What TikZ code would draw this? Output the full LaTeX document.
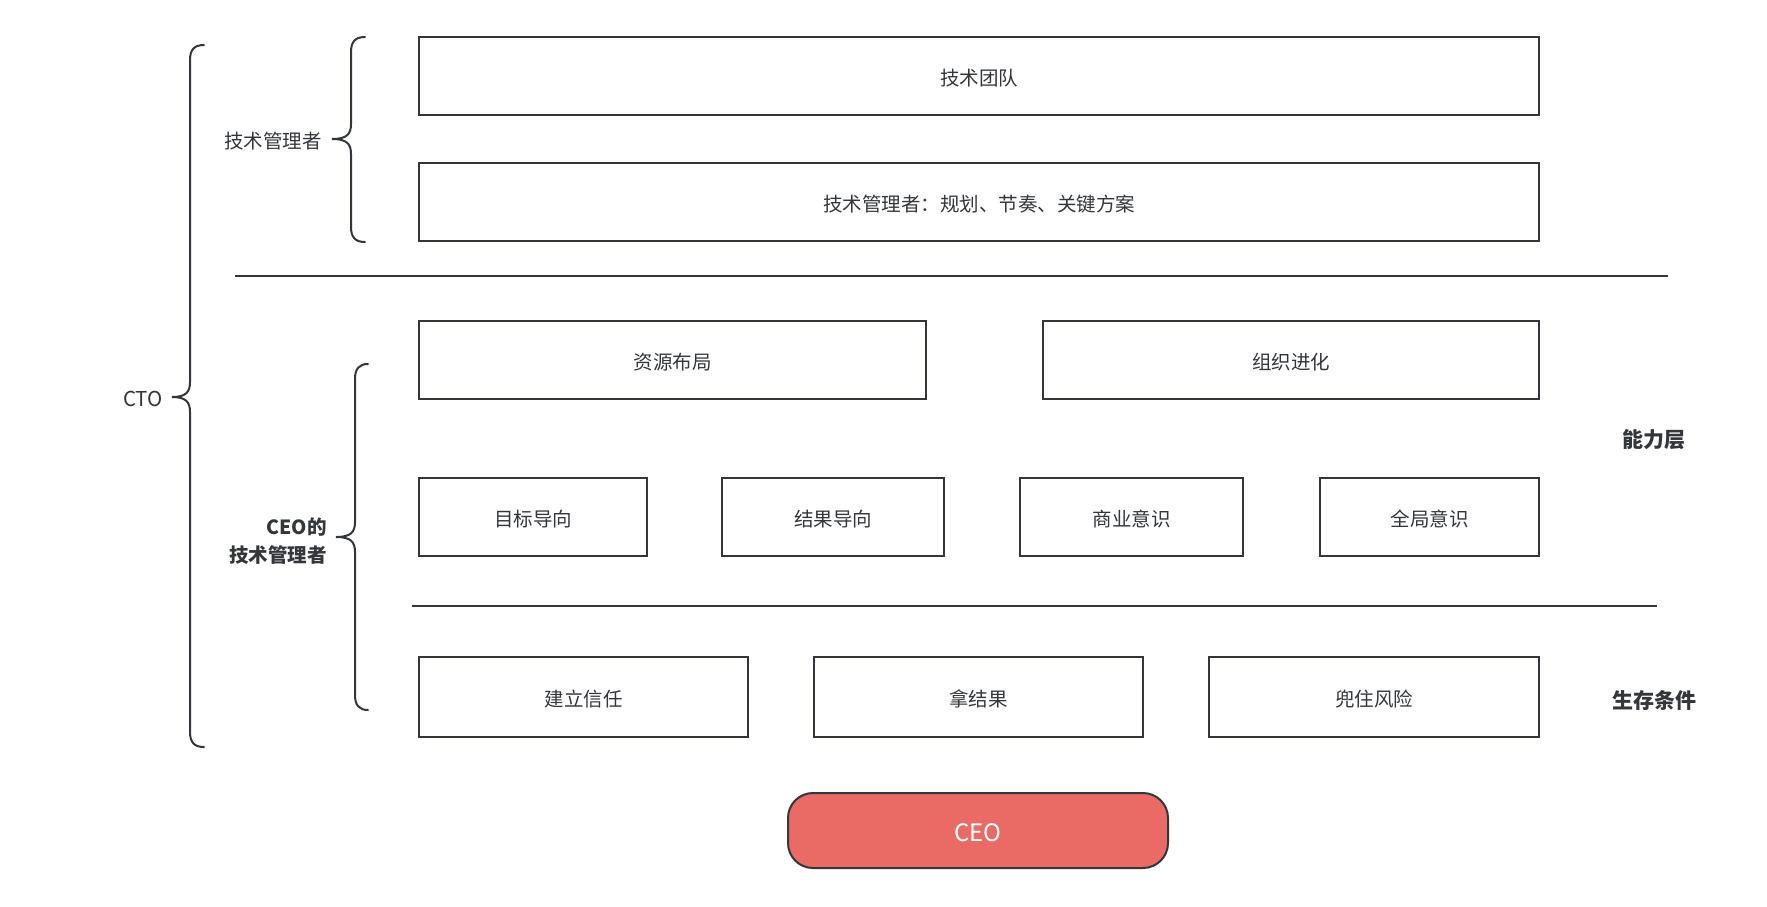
\documentclass[tikz,border=0pt]{standalone}
\usepackage{fontspec}
\setmainfont{Noto Sans CJK SC}
\usetikzlibrary{positioning}
\definecolor{linec}{RGB}{51,54,58}
\definecolor{ceored}{RGB}{234,107,102}
\tikzset{
  box/.style = {draw=linec, line width=2pt, outer sep=0pt, minimum height=78pt, text=linec,
                text height=19pt, text depth=0pt, font=\fontsize{19.5}{23}\selectfont},
  layer/.style = {draw=linec, line width=2pt},
  bracket/.style = {draw=linec, line width=2pt, line cap=round},
  tag/.style = {text=linec, font=\fontsize{19.5}{23}\selectfont, inner sep=0pt},
  bold tag/.style = {tag, font=\fontsize{21}{25}\selectfont\bfseries}
}

\begin{document}
\begin{tikzpicture}[x=1pt, y=-1pt, node distance = 48pt]
  \useasboundingbox (0,0) rectangle (1767,906);

  % top part
  \node (team)[box, minimum width=1120pt] at (979,76) {技术团队};
  \node (plan)[box, minimum width=1120pt, below = of team] {技术管理者：规划、节奏、关键方案};
  \coordinate (l1a) at (235,276);
  \coordinate (l1b) at (1668,276);
  \draw[layer] (l1a) -- (l1b);

  % capability layer
  \node (res)[box, minimum width=507pt] at (672.5,359.5) {资源布局};
  \node (org)[box, minimum width=496pt] at (1291,359.5) {组织进化};
  \node (goal)[box, minimum width=228pt] at (533,517) {目标导向};
  \node (result)[box, minimum width=222pt, right = 75pt of goal] {结果导向};
  \node (biz)[box, minimum width=223pt, right = 76pt of result] {商业意识};
  \node (global)[box, minimum width=219pt, right = 77pt of biz] {全局意识};
  \coordinate (l2a) at (412,606);
  \coordinate (l2b) at (1657,606);
  \draw[layer] (l2a) -- (l2b);

  % survival layer
  \node (trust)[box, minimum width=329pt, minimum height=80pt] at (583.5,697) {建立信任};
  \node (deliver)[box, minimum width=329pt, minimum height=80pt, right = 66pt of trust] {拿结果};
  \node (risk)[box, minimum width=330pt, minimum height=80pt, right = 66pt of deliver] {兜住风险};

  \node (ceo)[box, fill=ceored, rounded corners=25pt, minimum width=380pt, minimum height=75pt,
              text=white, text height=21pt, font=\fontsize{24}{28}\selectfont] at (978,830.5) {CEO};

  % braces
  \draw[bracket] (204,45) .. controls (194,45) and (190,50) .. (190,60) -- (190,382)
    .. controls (190,392) and (186,397) .. (172,397)
    .. controls (186,397) and (190,402) .. (190,412) -- (190,732)
    .. controls (190,742) and (194,747) .. (204,747);
  \draw[bracket] (365,37) .. controls (355,37) and (351,42) .. (351,52) -- (351,124)
    .. controls (351,134) and (347,139) .. (332,139)
    .. controls (347,139) and (351,144) .. (351,154) -- (351,227)
    .. controls (351,237) and (355,242) .. (365,242);
  \draw[bracket] (368,364) .. controls (359,364) and (355,369) .. (355,379) -- (355,522)
    .. controls (355,532) and (351,537) .. (336,537)
    .. controls (351,537) and (355,542) .. (355,552) -- (355,695)
    .. controls (355,705) and (359,710) .. (368,710);

  % labels
  \node (cto)[tag, anchor=east, font=\fontsize{20.5}{24}\selectfont] at (163,398.5) {CTO};
  \node (techmgr)[tag, anchor=east] at (322,141) {技术管理者};
  \node (ceomgr)[tag, anchor=east, align=right, font=\fontsize{19.5}{28}\selectfont\bfseries] at (327,541) {CEO的\\技术管理者};
  \node (ability)[bold tag] at (1654,440) {能力层};
  \node (survive)[bold tag] at (1654,701) {生存条件};
\end{tikzpicture}
\end{document}
